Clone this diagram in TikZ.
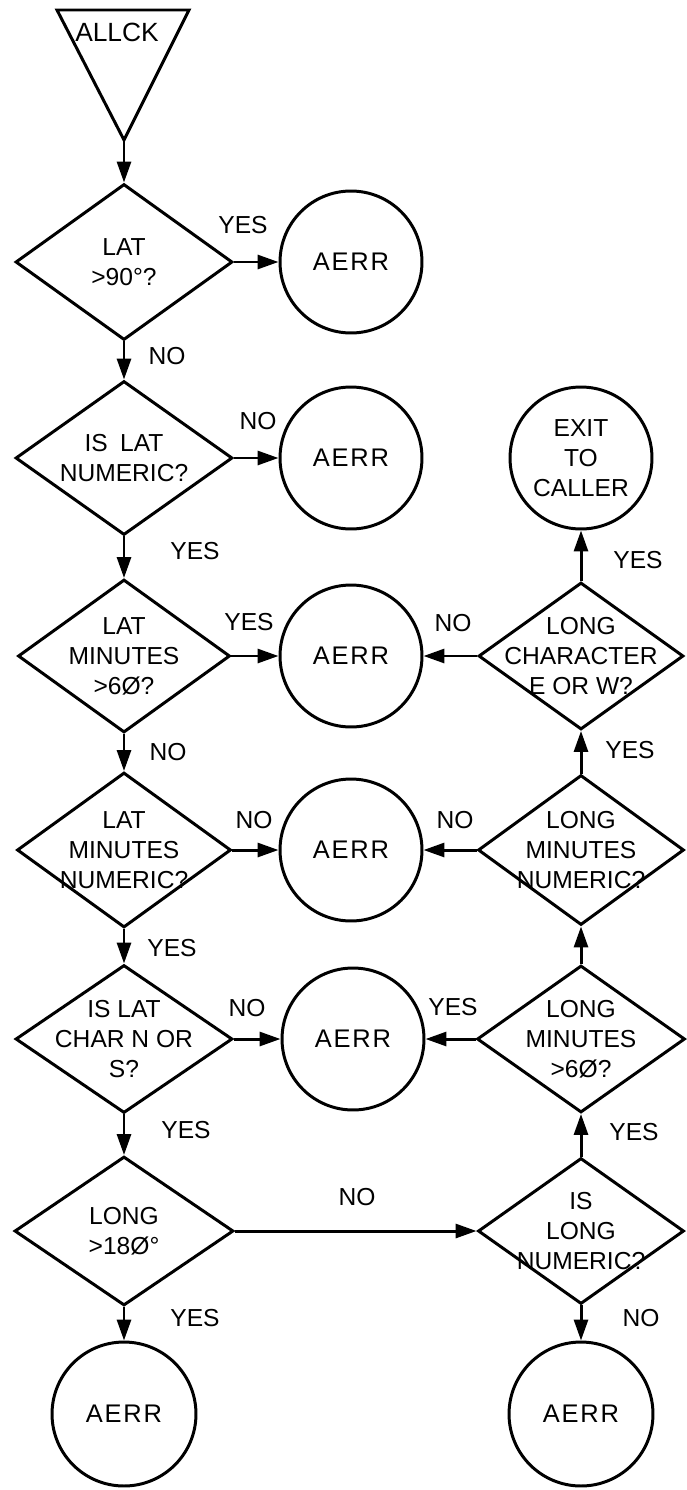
\documentclass[tikz,border=0pt]{standalone}
\usepackage{fontspec}
\setmainfont{Liberation Sans}
\usetikzlibrary{shapes.geometric,arrows.meta}
\begin{document}
\begin{tikzpicture}[x=0.02cm,y=-0.02cm,line width=1.7pt,
  every node/.style={font=\fontsize{14}{17}\selectfont},
  dec/.style={draw,diamond,inner sep=0pt},
  dtext/.style={align=center,inner sep=0pt},
  term/.style={draw,circle,minimum size=2.84cm,inner sep=0pt,align=center},
  aerr/.style={term,font=\fontsize{14.5}{17}\selectfont\addfontfeature{LetterSpace=7}},
  lab/.style={inner sep=0pt},
  arr/.style={-{Triangle[length=0.42cm,width=0.28cm]}}]
\useasboundingbox (0,0) rectangle (686,1490);

% start triangle
\draw[line join=miter] (57,10) -- (189,10) -- (124,140) -- cycle;
\node[lab,font=\fontsize{15}{17}\selectfont] (start) at (117,32) {ALLCK};
\coordinate (apex) at (124,140);

% left column
\node[dec,minimum width=4.34cm,minimum height=3.12cm,label={[dtext]center:{LAT\\>90°?}}] (d1) at (124,262) {};
\node[dec,minimum width=4.34cm,minimum height=3.08cm,label={[dtext]center:{IS\enspace LAT\\NUMERIC?}}] (d2) at (124,458) {};
\node[dec,minimum width=4.24cm,minimum height=3.06cm,label={[dtext]center:{LAT\\MINUTES\\>6Ø?}}] (d3) at (124,656) {};
\node[dec,minimum width=4.28cm,minimum height=3.1cm,label={[dtext]center:{LAT\\MINUTES\\NUMERIC?}}] (d4) at (124,850) {};
\node[dec,minimum width=4.34cm,minimum height=2.96cm,label={[dtext]center:{IS LAT\\CHAR N OR\\S?}}] (d5) at (124,1039) {};
\node[dec,minimum width=4.38cm,minimum height=2.98cm,label={[dtext]center:{LONG\\>18Ø°}}] (d6) at (124,1231) {};

% middle column
\node[aerr] (c1) at (351,262) {AERR};
\node[aerr] (c2) at (351,458) {AERR};
\node[aerr] (c3) at (351,656) {AERR};
\node[aerr] (c4) at (351,850) {AERR};
\node[aerr] (c5) at (353,1039) {AERR};

% right column
\node[term] (exit) at (581,458) {EXIT\\TO\\CALLER};
\node[dec,minimum width=4.1cm,minimum height=2.94cm,label={[dtext]center:{LONG\\CHARACTER\\E OR W?}}] (r1) at (581,656) {};
\node[dec,minimum width=4.12cm,minimum height=3.0cm,label={[dtext]center:{LONG\\MINUTES\\NUMERIC?}}] (r2) at (581,850) {};
\node[dec,minimum width=4.16cm,minimum height=2.94cm,label={[dtext]center:{LONG\\MINUTES\\>6Ø?}}] (r3) at (581,1039) {};
\node[dec,minimum width=4.12cm,minimum height=2.92cm,label={[dtext]center:{IS\\LONG\\NUMERIC?}}] (r4) at (581,1231) {};

% bottom terminals
\node[aerr,minimum size=2.88cm] (b1) at (124,1414) {AERR};
\node[aerr,minimum size=2.88cm] (b2) at (581,1414) {AERR};

% connectors
\draw[arr] (apex) -- (d1.north);
\draw[arr] (d1.south) -- (d2.north);
\draw[arr] (d2.south) -- (d3.north);
\draw[arr] (d3.south) -- (d4.north);
\draw[arr] (d4.south) -- (d5.north);
\draw[arr] (d5.south) -- (d6.north);
\draw[arr] (d6.south) -- (b1.north);
\draw[arr] (d1.east) -- (c1.west);
\draw[arr] (d2.east) -- (c2.west);
\draw[arr] (d3.east) -- (c3.west);
\draw[arr] (d4.east) -- (c4.west);
\draw[arr] (d5.east) -- (c5.west);
\draw[arr] (d6.east) -- (r4.west);
\draw[arr] (r4.north) -- (r3.south);
\draw[arr] (r3.north) -- (r2.south);
\draw[arr] (r2.north) -- (r1.south);
\draw[arr] (r1.north) -- (exit.south);
\draw[arr] (r1.west) -- (c3.east);
\draw[arr] (r2.west) -- (c4.east);
\draw[arr] (r3.west) -- (c5.east);
\draw[arr] (r4.south) -- (b2.north);

% labels
\node[lab] (l1) at (243,225) {YES};
\node[lab] (l2) at (167,356) {NO};
\node[lab] (l3) at (258,421) {NO};
\node[lab] (l4) at (195,551) {YES};
\node[lab] (l5) at (249,622) {YES};
\node[lab] (l6) at (453,623) {NO};
\node[lab] (l7) at (638,560) {YES};
\node[lab] (l8) at (168,752) {NO};
\node[lab] (l9) at (630,750) {YES};
\node[lab] (l10) at (254,820) {NO};
\node[lab] (l11) at (455,820) {NO};
\node[lab] (l12) at (172,948) {YES};
\node[lab] (l13) at (247,1008) {NO};
\node[lab] (l14) at (453,1007) {YES};
\node[lab] (l15) at (186,1130) {YES};
\node[lab] (l16) at (634,1132) {YES};
\node[lab] (l17) at (357,1197) {NO};
\node[lab] (l18) at (195,1318) {YES};
\node[lab] (l19) at (641,1318) {NO};
\end{tikzpicture}
\end{document}
